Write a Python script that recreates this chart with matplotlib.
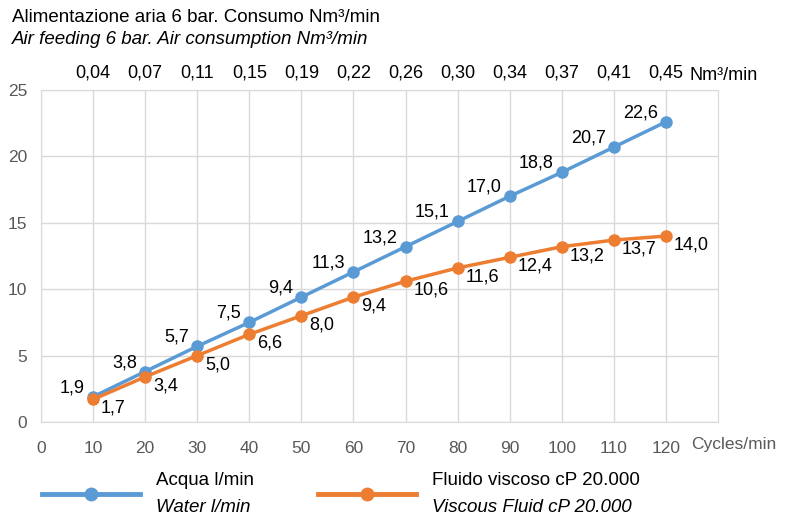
import numpy as np
import matplotlib.pyplot as plt
from matplotlib.lines import Line2D
from matplotlib.offsetbox import TextArea, VPacker

plt.rcParams['font.family'] = ['Liberation Sans', 'DejaVu Sans']

cycles = [10, 20, 30, 40, 50, 60, 70, 80, 90, 100, 110, 120]
water = [1.9, 3.8, 5.7, 7.5, 9.4, 11.3, 13.2, 15.1, 17.0, 18.8, 20.7, 22.6]
viscous = [1.7, 3.4, 5.0, 6.6, 8.0, 9.4, 10.6, 11.6, 12.4, 13.2, 13.7, 14.0]
air = ['0,04', '0,07', '0,11', '0,15', '0,19', '0,22', '0,26', '0,30',
       '0,34', '0,37', '0,41', '0,45']
leg_it = ['Acqua l/min', 'Fluido viscoso cP 20.000']
leg_en = ['Water l/min', 'Viscous Fluid cP 20.000']

blue = '#5b9bd5'
orange = '#ed7d31'
grid = '#d9d9d9'
gray = '#595959'

fig = plt.figure(figsize=(7.85, 5.16), dpi=100)
ax = fig.add_axes([41/785, 1 - 422/516, (718 - 41)/785, (422 - 90)/516])

ax.plot(cycles, water, color=blue, lw=2.5, marker='o', ms=8, zorder=3)
ax.plot(cycles, viscous, color=orange, lw=2.5, marker='o', ms=8, zorder=3)

def fmt(v):
    return ('%.1f' % v).replace('.', ',')

for x, v in zip(cycles, water):
    ax.annotate(fmt(v), (x, v), xytext=(-8, 9), textcoords='offset pixels',
                ha='right', va='center', fontsize=13)
for x, v in zip(cycles, viscous):
    ax.annotate(fmt(v), (x, v), xytext=(8, -9), textcoords='offset pixels',
                ha='left', va='center', fontsize=13)

ax.set_xlim(0, 130)
ax.set_ylim(0, 25)
ax.set_xticks(range(0, 130, 10))
ax.set_yticks(range(0, 26, 5))
ax.grid(True, color=grid, lw=1)
ax.set_axisbelow(True)
for s in ax.spines.values():
    s.set_color(grid)
ax.tick_params(length=0, labelsize=12.5, labelcolor=gray)
ax.tick_params(axis='x', pad=14)
ax.tick_params(axis='y', pad=10)
ax.annotate('Cycles/min', (120, 0), xytext=(25, -22), textcoords='offset pixels',
            fontsize=12.5, color=gray, ha='left', va='center')

top = ax.secondary_xaxis('top')
top.set_xticks(cycles)
top.set_xticklabels(air)
top.tick_params(length=0, labelsize=13, pad=6)
top.spines['top'].set_visible(False)
ax.annotate('Nm³/min', (120, 25), xytext=(24, 15), textcoords='offset pixels',
            fontsize=13, ha='left', va='center')

fig.text(12/785, 1 - 17/516, 'Alimentazione aria 6 bar. Consumo Nm³/min',
         fontsize=13.5, ha='left', va='center')
fig.text(12/785, 1 - 40/516, 'Air feeding 6 bar. Air consumption Nm³/min',
         fontsize=13.5, ha='left', va='center', style='italic')

h1 = Line2D([], [], color=blue, lw=3.5, marker='o', ms=9)
h2 = Line2D([], [], color=orange, lw=3.5, marker='o', ms=9)
leg = ax.legend([h1, h2], leg_it,
                ncol=2, frameon=False, fontsize=13.5, handlelength=5.2,
                handletextpad=0.9, columnspacing=3.4, borderpad=0, borderaxespad=0,
                loc='center left', bbox_to_anchor=(42/785, 1 - 494/516),
                bbox_transform=fig.transFigure)

# swap each legend label for a two-line box: plain italian + italic english
for col, en in zip(leg._legend_handle_box.get_children(), leg_en):
    item = col.get_children()[0]
    old = item.get_children()[1]
    it_txt = old._text.get_text()
    box = VPacker(children=[TextArea(it_txt, textprops=dict(fontsize=13.5)),
                            TextArea(en, textprops=dict(fontsize=13.5, style='italic'))],
                  pad=0, sep=7, align='left')
    item._children[1] = box
    item.align = 'center'
leg._legend_box.set_figure(fig)

fig.savefig('out.png', dpi=100)
